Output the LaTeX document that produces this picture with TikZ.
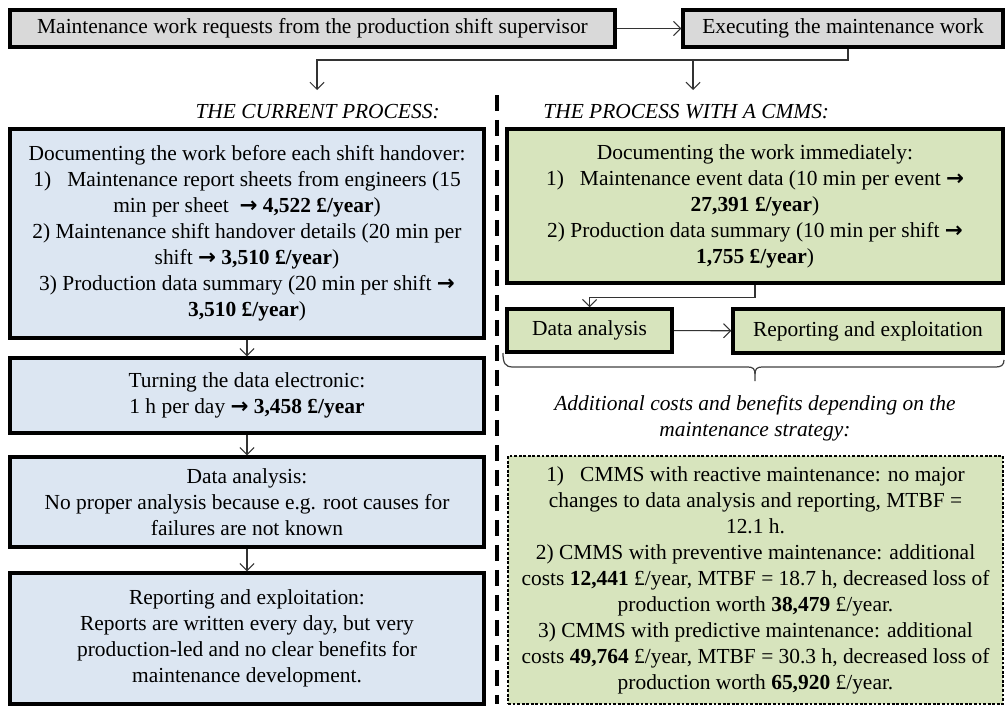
\documentclass[tikz,border=0pt]{standalone}
\usepackage{fontspec}
\setmainfont{Liberation Serif}
\newfontfamily\symf{DejaVu Sans}
\usetikzlibrary{arrows.meta,calc}
\definecolor{boxgray}{HTML}{D9D9D9}
\definecolor{boxblue}{HTML}{DCE6F2}
\definecolor{boxgreen}{HTML}{D7E4BD}
\newcommand{\arw}{{\symf\bfseries →}}
\begin{document}
\begin{tikzpicture}[x=0.02cm,y=-0.02cm,
  basebox/.style={draw=black, line width=2pt, inner sep=0pt, align=center, font=\fontsize{12.2}{14.8}\selectfont},
  graybox/.style={basebox, fill=boxgray},
  bluebox/.style={basebox, fill=boxblue, minimum width=9.48cm},
  greenbox/.style={basebox, fill=boxgreen},
  dotbox/.style={basebox, fill=boxgreen, line width=1.6pt, dash pattern=on 1.6pt off 1pt},
  conn/.style={draw=black!80, line width=0.6pt, -{Straight Barb[length=4pt,width=8pt]}},
  plainline/.style={draw=black!75, line width=0.7pt},
  heading/.style={font=\fontsize{12.2}{14.8}\selectfont\itshape, align=center, inner sep=0pt},
]
\useasboundingbox (0,0) rectangle (1006,706);

% top row
\node[graybox, minimum width=12.1cm, minimum height=0.74cm] (req) at (312.5,28.5) {Maintenance\ work requests from the production shift supervisor};
\node[graybox, minimum width=6.4cm, minimum height=0.74cm] (exec) at (843,28.5) {Executing the maintenance work};
\draw[conn] (req) -- (exec);
\coordinate (c1) at (317,90);
\coordinate (c2) at (693,90);
\coordinate (jn) at (693,60);
\draw[conn] ([xshift=0.1cm]exec.south) |- (c1 |- jn) -- (c1);
\draw[conn] (jn) -- (c2);

% headings
\node[heading, anchor=east] (hcur) at (440,112) {THE CURRENT PROCESS:};
\node[heading, anchor=west] (hcmms) at (543,112) {THE PROCESS WITH A CMMS:};

% separator
\draw[line width=2.4pt, dash pattern=on 0.33cm off 0.17cm] (497,95) -- (497,704);

% current process
\node[bluebox, minimum height=4.18cm] (b1) at (247,233.5) {Documenting the work before each shift handover:\\
1)\enspace\ Maintenance report sheets from engineers (15\\
min per sheet \ \arw{} \textbf{4,522 £/year})\\
2) Maintenance shift handover details (20 min per\\
shift \arw{} \textbf{3,510 £/year})\\
3) Production data summary (20 min per shift \arw\\
\textbf{3,510 £/year})};
\node[bluebox, minimum height=1.5cm] (b2) at (247,395.5) {Turning the data electronic:\\
1 h per day \arw{} \textbf{3,458 £/year}};
\node[bluebox, minimum height=1.8cm] (b3) at (247,502) {Data analysis:\\
No proper analysis because e.g. root causes for\\
failures are not known};
\node[bluebox, minimum height=2.62cm] (b4) at (247,638.5) {Reporting and exploitation:\\
Reports are written every day, but very\\
production-led and no clear benefits for\\
maintenance development.};
\draw[conn] (b1) -- (b2);
\draw[conn] (b2) -- (b3);
\draw[conn] (b3) -- (b4);

% process with CMMS
\node[greenbox, minimum width=9.92cm, minimum height=3.08cm] (g1) at (755,206) {Documenting the work immediately:\\
1)\enspace\ Maintenance event data (10 min per event \arw\\
\textbf{27,391 £/year})\\
2) Production data summary (10 min per shift \arw\\
\textbf{1,755 £/year})};
\node[greenbox, minimum width=3.3cm, minimum height=0.86cm] (g2) at (589.5,330.5) {Data analysis};
\node[greenbox, minimum width=5.4cm, minimum height=0.88cm] (g3) at (868,331) {Reporting and exploitation};
\draw[conn] (g1.south) -- ++(0,13) -| (g2.north);
\draw[conn] (g2) -- (g3);

% brace
\draw[plainline] (503,353) .. controls (503,363) and (505,367) .. (513,367) -- (748,367) .. controls (753,367) and (755,369) .. (755,374) -- (755,381);
\draw[plainline] (755,374) .. controls (755,369) and (757,367) .. (762,367) -- (996,367) .. controls (1001,367) and (1004,365) .. (1004,360);

\node[heading] (addl) at (755,418) {Additional costs and benefits depending on the\\ maintenance strategy:};

\node[dotbox, minimum width=9.9cm, minimum height=4.96cm] (strat) at (755.5,580) {1)\enspace\ CMMS with reactive maintenance: no major\\
changes to data analysis and reporting, MTBF =\\
12.1 h.\\
2) CMMS with preventive maintenance: additional\\
costs \textbf{12,441} £/year, MTBF = 18.7 h, decreased loss of\\
production worth \textbf{38,479} £/year.\\
3) CMMS with predictive maintenance: additional\\
costs \textbf{49,764} £/year, MTBF = 30.3 h, decreased loss of\\
production worth \textbf{65,920} £/year.};
\end{tikzpicture}
\end{document}
